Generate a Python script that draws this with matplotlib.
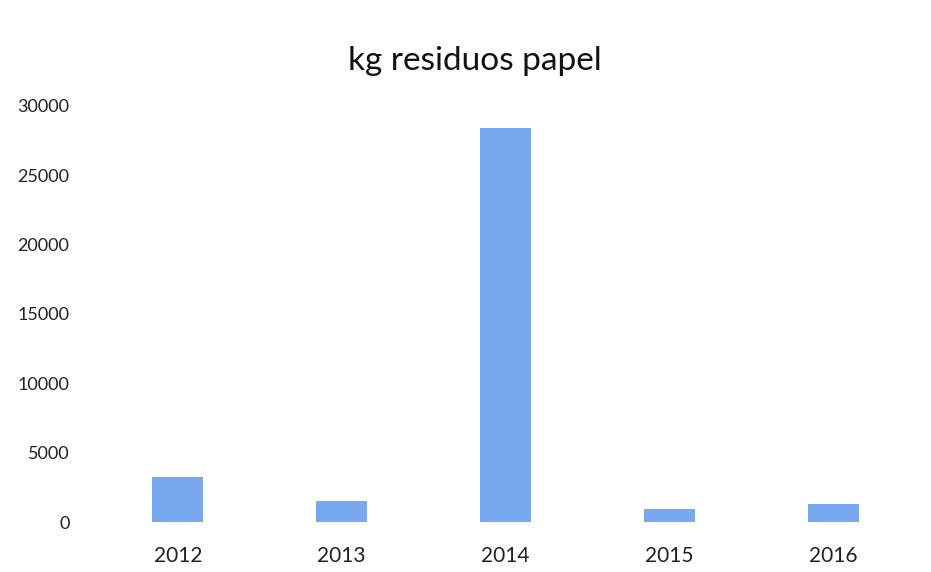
import numpy as np
import matplotlib.pyplot as plt

years = ["2012", "2013", "2014", "2015", "2016"]
kg_papel = [3230, 1520, 28390, 940, 1280]
y_ticks = [0, 5000, 10000, 15000, 20000, 25000, 30000]

plt.rcParams['font.family'] = ['Lato', 'DejaVu Sans']

fig = plt.figure(figsize=(9.31, 5.72), dpi=100)
ax = fig.add_axes([0.103, 0.0874, 0.880, 0.7273])

x = np.arange(len(years))
ax.bar(x, kg_papel, width=0.31, color="#78a9ee")

ax.set_xlim(-0.5, len(years) - 0.5)
ax.set_ylim(0, 30000)
ax.set_yticks(y_ticks)
ax.set_yticklabels([str(t) for t in y_ticks])
ax.set_xticks(x)
ax.set_xticklabels(years)

for s in ax.spines.values():
    s.set_visible(False)
ax.tick_params(axis='both', length=0, colors="#222222")
ax.tick_params(axis='y', pad=19, labelsize=13)
ax.tick_params(axis='x', pad=17, labelsize=15)

fig.text(0.5097, 0.893, "kg residuos papel", ha='center', va='center',
         fontsize=24, color="#111111")

plt.savefig("out.png", dpi=100)
